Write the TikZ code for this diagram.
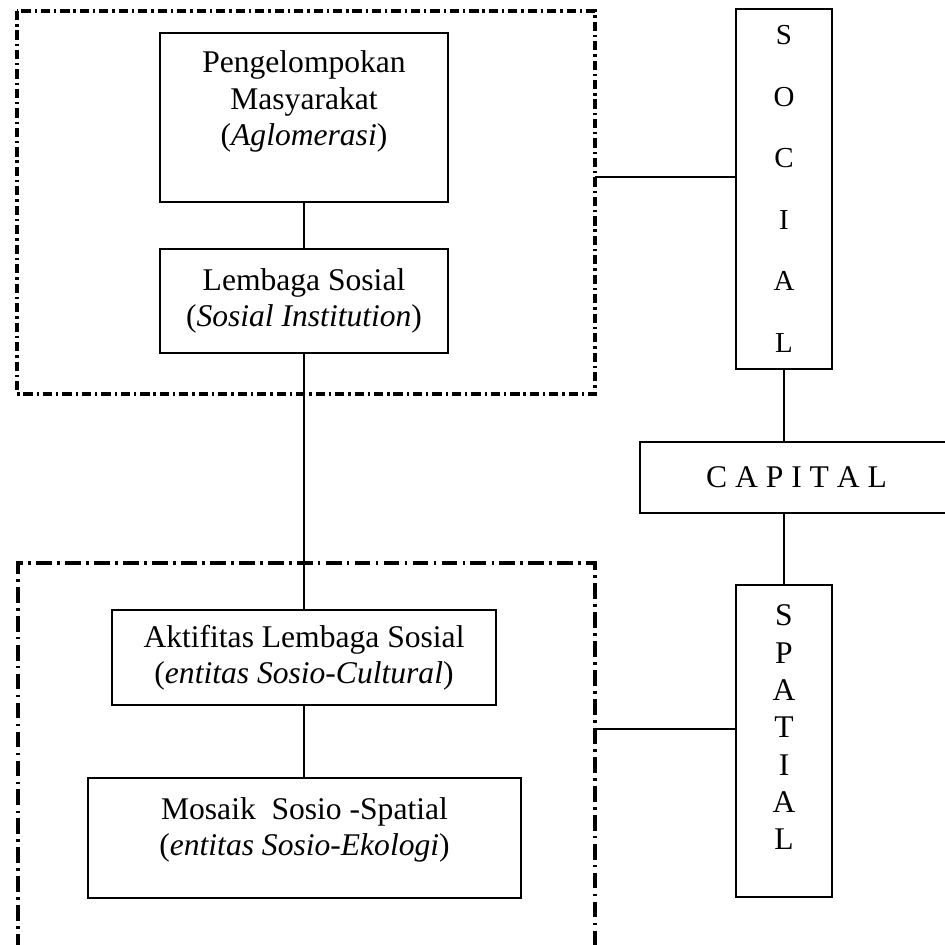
\documentclass[tikz,border=0pt]{standalone}
\usepackage{fontspec}
\setmainfont{Liberation Serif}
\begin{document}
\begin{tikzpicture}[x=0.38pt,y=-0.38pt,
  box/.style={draw,line width=0.8pt,inner sep=0pt,align=center,
    font=\fontsize{12}{13.8}\selectfont},
  txt/.style={inner sep=0pt,align=center,font=\fontsize{12}{13.8}\selectfont},
  conn/.style={line width=0.8pt},
  grptop/.style={line width=1.4pt,dash pattern=on 3.5pt off 1.5pt on 0.9pt off 1.5pt},
  grpbot/.style={line width=1.4pt,dash pattern=on 6pt off 2pt on 1pt off 2pt}]
\useasboundingbox (0,0) rectangle (945,945);

% group frames
\draw[grptop] (17,11) rectangle (595,394);
\draw[grpbot] (18,950) -- (18,563) -- (595,563) -- (595,950);
\coordinate (jtop) at (595,177);
\coordinate (jbot) at (595,729);

% left column boxes
\node[box,minimum width=109.44pt,minimum height=64.22pt] (b1) at (304,117.5) {};
\node[txt] (b1t) at (304,101.7) {Pengelompokan\\Masyarakat\\(\textit{Aglomerasi})};
\node[box,minimum width=109.44pt,minimum height=39.52pt] (b2) at (304,301)
  {Lembaga Sosial\\(\textit{Sosial Institution})};
\node[box,minimum width=145.92pt,minimum height=36.1pt] (b3) at (304,657.5)
  {Aktifitas Lembaga Sosial\\(\textit{entitas Sosio-Cultural})};
\node[box,minimum width=164.54pt,minimum height=45.6pt] (b4) at (304.5,838) {};
\node[txt] (b4t) at (304.5,830) {Mosaik\ \ Sosio -Spatial\\(\textit{entitas Sosio-Ekologi})};

% right column
\node[box,minimum width=36.48pt,minimum height=136.8pt,
  font=\fontsize{11}{23.4}\selectfont] (social) at (784,189) {S\\O\\C\\I\\A\\L};
\node[box,minimum width=118.94pt,minimum height=26.98pt] (capital) at (796.5,477.5)
  {C A P I T A L};
\node[box,minimum width=36.48pt,minimum height=118.56pt] (spatial) at (784,741) {};
\node[txt,font=\fontsize{12}{14.2}\selectfont] (spatialt) at (784,727.4)
  {S\\P\\A\\T\\I\\A\\L};

% connectors
\draw[conn] (b1.south) -- (b2.north);
\draw[conn] (b2.south) -- (b3.north);
\draw[conn] (b3.south) -- (b3.south |- b4.north);
\draw[conn] (jtop) -- (jtop -| social.west);
\draw[conn] (jbot) -- (jbot -| spatial.west);
\draw[conn] (social.south) -- (social.south |- capital.north);
\draw[conn] (spatial.north |- capital.south) -- (spatial.north);
\end{tikzpicture}
\end{document}
